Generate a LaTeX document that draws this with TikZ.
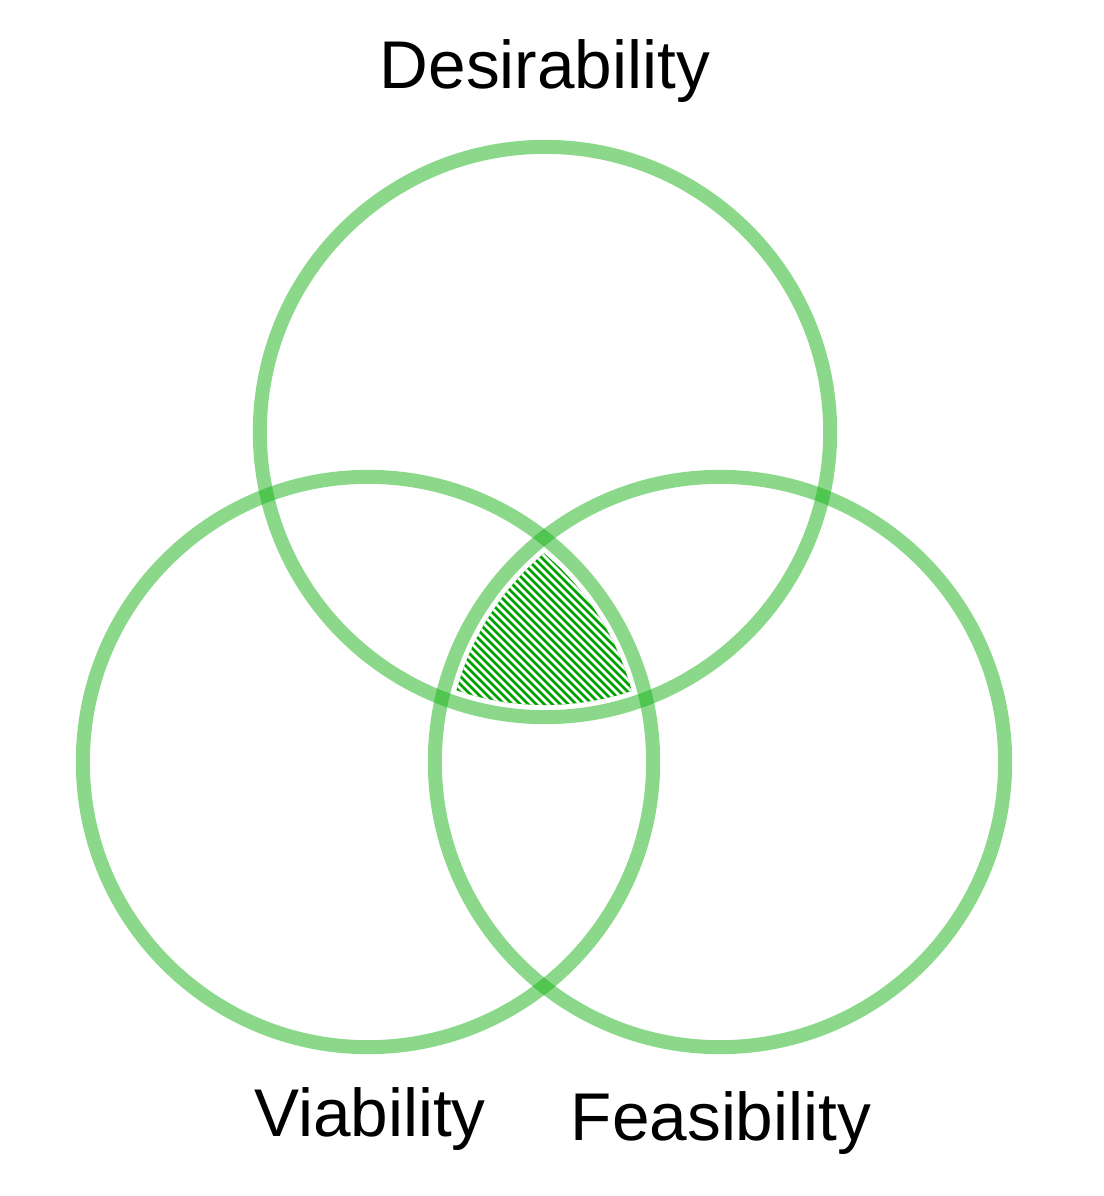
\documentclass[tikz,border=0pt]{standalone}
\usepackage{fontspec}
\setmainfont{Liberation Sans}
\definecolor{ring}{RGB}{23,178,23}
\definecolor{hatch}{RGB}{0,162,0}
\begin{document}
\begin{tikzpicture}[x=0.01cm,y=-0.01cm,
  ringstyle/.style={circle,draw=ring,draw opacity=0.5,line width=0.14cm,minimum size=5.7cm,inner sep=0pt},
  labelstyle/.style={font=\fontsize{19.2}{23}\selectfont,anchor=base,inner sep=0pt}]
\useasboundingbox (0,0) rectangle (1104,1196);
\coordinate (cD) at (545,432);
\coordinate (cV) at (368,762);
\coordinate (cF) at (720,762);
% hatched triple intersection
\begin{scope}
  \clip (cD) circle (273);
  \clip (cV) circle (273);
  \clip (cF) circle (273);
  \fill[hatch] (430,530) rectangle (670,720);
  \foreach \k in {-300,-292,...,120}{
    \draw[white,line width=0.75pt] (400,400-\k) -- (700,700-\k);
  }
\end{scope}
\node[ringstyle] (D) at (cD) {};
\node[ringstyle] (V) at (cV) {};
\node[ringstyle] (F) at (cF) {};
\node[labelstyle] (Dl) at (545,88) {Desirability};
\node[labelstyle] (Vl) at (370,1136) {Viability};
\node[labelstyle] (Fl) at (721,1140) {Feasibility};
\end{tikzpicture}
\end{document}
